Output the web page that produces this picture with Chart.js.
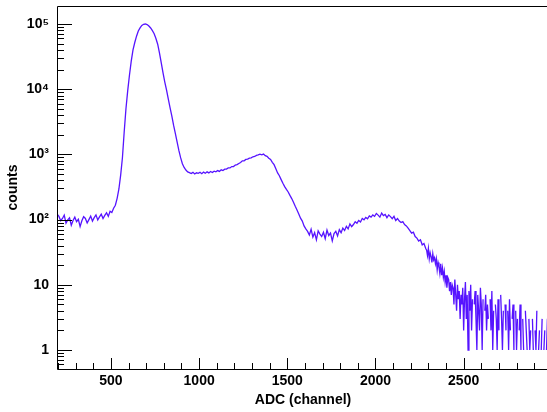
<!DOCTYPE html>
<html>
<head>
<meta charset="utf-8">
<script src="https://cdn.jsdelivr.net/npm/chart.js@4.4.1/dist/chart.umd.min.js"></script>
<style>
  html, body { margin: 0; padding: 0; background: #fff; overflow: hidden; }
  #wrap { width: 550px; height: 412px; }
</style>
</head>
<body>
<div id="wrap"><canvas id="adc-chart" width="550" height="412"></canvas></div>
<script>
// ADC spectrum: 10-channel bins from channel 195, then 5-channel bins in the tail
const binStart = 195;
const binWidth = 10;
const tailStart = 2290;
const tailBinWidth = 5;

// 195 - 485
const countsLow = [121, 112, 96, 104, 117, 88, 99, 106, 82, 97, 109, 93, 101, 78, 96, 111, 104, 89, 100, 113,
  95, 107, 118, 99, 110, 121, 104, 116, 127, 112];
// 495 - 985 (main peak)
const countsPeak = [134, 128, 149, 166, 212, 295, 480, 890, 2200, 5000,
  9500, 16500, 27000, 40000, 52000, 65000, 78000, 87000, 95000, 99000,
  100000, 98000, 93000, 87000, 79000, 71000, 60000, 49000, 36000, 25500,
  18000, 13000, 9800, 7100, 5200, 3900, 2800, 2100, 1550, 1150,
  890, 720, 630, 575, 540, 525, 508, 530, 500, 522];
// 995 - 1485 (shoulder)
const countsShoulder = [512, 532, 506, 535, 514, 540, 520, 546, 528, 552, 540, 565, 548, 580, 566, 594, 596, 620, 620, 650,
  650, 686, 696, 726, 750, 796, 796, 836, 846, 876, 886, 920, 930, 966, 980, 1005, 985, 1010, 955, 935,
  875, 835, 755, 695, 600, 520, 470, 410, 360, 320];
// 1495 - 1985
const countsValley = [290, 265, 235, 210, 185, 160, 140, 122, 105, 95, 80, 72, 66, 58, 71, 54, 63, 49, 67, 60,
  55, 64, 51, 69, 57, 62, 47, 61, 66, 56, 70, 63, 74, 68, 79, 72, 86, 78, 84, 93,
  88, 97, 92, 104, 99, 108, 103, 114, 109, 118];
// 1995 - 2285 (second bump)
const countsBump = [112, 124, 117, 109, 126, 115, 120, 107, 118, 111, 103, 112, 97, 104, 95, 90, 93, 84, 80, 74,
  68, 62, 64, 55, 52, 47, 49, 41, 43, 36];
// 2290 - 2985 (tail, 5-channel bins)
const countsTail = [34, 28, 36, 25, 31, 27, 22, 30, 24, 26, 21, 25, 17, 22, 19, 15, 21, 14, 18, 13,
  16, 11, 14, 9, 13, 12, 8, 11, 7, 10, 9, 5, 12, 7, 4, 10, 6, 8, 3, 7,
  5, 9, 2, 6, 11, 3, 7, 1, 8, 4, 10, 2, 6, 0, 5, 8, 3, 1, 7, 4,
  2, 9, 5, 1, 6, 0, 4, 7, 2, 5, 3, 0, 6, 2, 8, 1, 4, 0, 5, 3,
  1, 6, 2, 0, 7, 3, 1, 4, 0, 5, 2, 0, 4, 1, 6, 2, 0, 3, 5, 1,
  0, 4, 1, 3, 0, 2, 5, 1, 0, 3, 1, 0, 4, 2, 1, 0, 3, 1, 2, 0,
  3, 1, 0, 2, 1, 4, 0, 1, 2, 0, 1, 3, 0, 1, 2, 0, 1, 3, 0, 1];

const xMajorTicks = [500, 1000, 1500, 2000, 2500];
const yMajorTicks = [1, 10, 100, 1000, 10000, 100000];
const yTickLabels = ['1', '10', '10\u00b2', '10\u00b3', '10\u2074', '10\u2075'];

const countsMain = [].concat(countsLow, countsPeak, countsShoulder, countsValley, countsBump);
const points = countsMain.map((c, i) => ({ x: binStart + i * binWidth, y: c }))
  .concat(countsTail.map((c, i) => ({ x: tailStart + i * tailBinWidth, y: c })));

const labelFont = { family: "'Liberation Sans', Arial, sans-serif", size: 14, weight: 'bold' };

// ROOT-like frame with ticks pointing inwards
const insideTicks = {
  id: 'insideTicks',
  afterDatasetsDraw(chart) {
    const { ctx, chartArea: a, scales: { x, y } } = chart;
    ctx.save();
    ctx.strokeStyle = '#000';
    ctx.lineWidth = 1;
    ctx.beginPath();
    ctx.rect(a.left + 0.5, a.top + 0.5, a.right - a.left, a.bottom - a.top);
    for (let v = Math.ceil(x.min / 100) * 100; v <= x.max; v += 100) {
      const px = Math.round(x.getPixelForValue(v)) + 0.5;
      const len = v % 500 === 0 ? 11 : 6;
      ctx.moveTo(px, a.bottom);
      ctx.lineTo(px, a.bottom - len);
    }
    for (let d = -1; d <= 5; d++) {
      for (let m = 1; m <= 9; m++) {
        const v = m * Math.pow(10, d);
        if (v < y.min || v > y.max) continue;
        const py = Math.round(y.getPixelForValue(v)) + 0.5;
        const len = m === 1 ? 15 : 7;
        ctx.moveTo(a.left, py);
        ctx.lineTo(a.left + len, py);
      }
    }
    ctx.stroke();
    ctx.restore();
  }
};

const canvas = document.getElementById('adc-chart');
new Chart(canvas.getContext('2d'), {
  type: 'line',
  data: {
    datasets: [{
      data: points,
      borderColor: 'rgb(86, 20, 255)',
      borderWidth: 1.3,
      pointRadius: 0,
      tension: 0,
      fill: false
    }]
  },
  options: {
    responsive: false,
    animation: false,
    layout: { padding: { top: 6, right: 1, left: 0, bottom: 0 } },
    plugins: { legend: { display: false }, tooltip: { enabled: false } },
    scales: {
      x: {
        type: 'linear',
        min: 194,
        max: 2984,
        afterFit(scale) {
          scale.height = 43;
          scale.paddingLeft = 0;
          scale.paddingRight = 0;
        },
        afterBuildTicks(scale) { scale.ticks = xMajorTicks.map(v => ({ value: v })); },
        grid: { display: false, drawTicks: false },
        border: { display: false },
        ticks: {
          padding: 4,
          color: '#000',
          font: labelFont,
          maxRotation: 0,
          callback: v => String(v)
        },
        title: {
          display: true,
          text: 'ADC (channel)',
          color: '#000',
          font: labelFont,
          padding: { top: 0, bottom: 3 }
        }
      },
      y: {
        type: 'logarithmic',
        min: 0.511,
        max: 188800,
        afterFit(scale) {
          scale.width = 57;
          scale.paddingTop = 0;
          scale.paddingBottom = 0;
        },
        afterBuildTicks(scale) { scale.ticks = yMajorTicks.map(v => ({ value: v })); },
        grid: { display: false, drawTicks: false },
        border: { display: false },
        ticks: {
          padding: 8,
          color: '#000',
          font: labelFont,
          callback: v => yTickLabels[yMajorTicks.indexOf(v)]
        },
        title: {
          display: true,
          text: 'counts',
          color: '#000',
          font: labelFont,
          padding: { top: 5, bottom: 0 }
        }
      }
    }
  },
  plugins: [insideTicks]
});
</script>
</body>
</html>
